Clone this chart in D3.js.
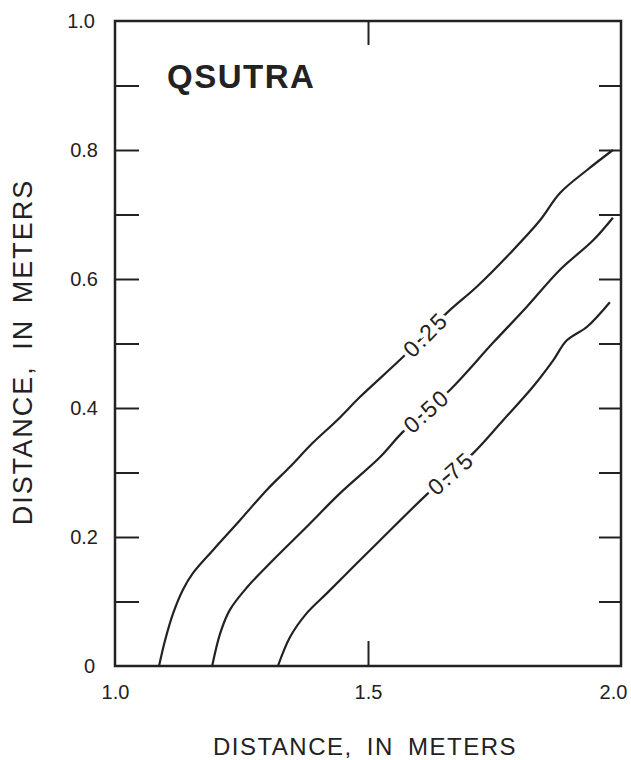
<!DOCTYPE html>
<html>
<head>
  <meta charset="utf-8" />
  <title>QSUTRA contours</title>
  <style>
    body { margin:0; background:#fff; }
    text { font-family:"Liberation Sans", Arial, sans-serif; fill:#222; }
    .contour { fill:none; stroke:#222; stroke-width:2.2px; }
  </style>
</head>
<body>
<div id="container"></div>
<script src="https://d3js.org/d3.v7.min.js"></script>
<script>
// contour levels and their points (x, y in meters)
var levels = ["0.25", "0.50", "0.75"];

var line025 = [[1.087,0],[1.099,0.040],[1.115,0.082],[1.134,0.118],[1.154,0.144],[1.194,0.180],
  [1.247,0.226],[1.300,0.273],[1.346,0.309],[1.391,0.346],[1.439,0.381],[1.484,0.417],
  [1.569,0.479],[1.658,0.549],[1.715,0.588],[1.781,0.640],[1.840,0.691],[1.879,0.733],
  [1.933,0.769],[1.984,0.800]];
var line050 = [[1.192,0],[1.208,0.051],[1.227,0.087],[1.261,0.122],[1.312,0.164],[1.379,0.216],
  [1.445,0.268],[1.524,0.324],[1.569,0.363],[1.662,0.428],[1.747,0.501],[1.814,0.557],
  [1.879,0.614],[1.945,0.660],[1.984,0.695]];
var line075 = [[1.322,0],[1.346,0.045],[1.379,0.082],[1.419,0.113],[1.470,0.153],[1.524,0.195],
  [1.619,0.268],[1.708,0.330],[1.767,0.381],[1.826,0.433],[1.866,0.474],[1.893,0.505],
  [1.933,0.526],[1.978,0.564]];
// index of the segment where each label sits
var labelSeg = [12, 8, 6];

var yTickValues = [0,0.1,0.2,0.3,0.4,0.5,0.6,0.7,0.8,0.9,1.0];
var yTickLabels = ["0","","0.2","","0.4","","0.6","","0.8","","1.0"];
var xLabelValues = [1.0, 1.5, 2.0];
var xLabels = ["1.0", "1.5", "2.0"];
var xTickValues = [1.5];

var lines = [line025, line050, line075];

var W = 631, H = 760;
var pL = 115, pR = 621, pT = 21, pB = 666;

var svg = d3.select("#container").append("svg")
  .attr("width", W).attr("height", H);

var x = d3.scaleLinear().domain([1, 2]).range([pL, pR]);
var y = d3.scaleLinear().domain([0, 1]).range([pB, pT]);

function yLab(d) { return yTickLabels[yTickValues.indexOf(d)]; }

// left axis: ticks inward, labels every 0.2
svg.append("g")
  .attr("transform", "translate(" + pL + ",0)")
  .call(d3.axisLeft(y).tickValues(yTickValues.slice(1, -1)).tickSize(-24).tickPadding(17).tickFormat(yLab))
  .call(function(g) { g.select(".domain").remove(); });
// labels for 0 and 1.0 at the corners
svg.append("g")
  .attr("transform", "translate(" + pL + ",0)")
  .call(d3.axisLeft(y).tickValues([0, 1]).tickSize(0).tickPadding(20).tickFormat(yLab))
  .call(function(g) { g.select(".domain").remove(); g.selectAll("line").remove(); });

// right axis ticks
svg.append("g")
  .attr("transform", "translate(" + pR + ",0)")
  .call(d3.axisRight(y).tickValues(yTickValues.slice(1, -1)).tickSize(-22).tickFormat(""))
  .call(function(g) { g.select(".domain").remove(); });

// bottom axis: labels, and one tick at 1.5
svg.append("g")
  .attr("transform", "translate(0," + pB + ")")
  .call(d3.axisBottom(x).tickValues(xLabelValues).tickSize(0).tickPadding(19)
    .tickFormat(function(d, i) { return xLabels[i]; }))
  .call(function(g) {
    g.select(".domain").remove(); g.selectAll("line").remove();
    g.selectAll(".tick:last-of-type text").attr("dx", -8);
  });
svg.append("g")
  .attr("transform", "translate(0," + pB + ")")
  .call(d3.axisBottom(x).tickValues(xTickValues).tickSize(-25).tickFormat(""))
  .call(function(g) { g.select(".domain").remove(); });
svg.append("g")
  .attr("transform", "translate(0," + pT + ")")
  .call(d3.axisTop(x).tickValues(xTickValues).tickSize(-24).tickFormat(""))
  .call(function(g) { g.select(".domain").remove(); });

svg.selectAll(".tick line").attr("stroke", "#222").attr("stroke-width", 2);
svg.selectAll(".tick text").attr("fill", "#222").style("font-size", "20px")
  .style("font-family", "'Liberation Sans', Arial, sans-serif");

// frame
svg.append("rect")
  .attr("x", pL).attr("y", pT)
  .attr("width", pR - pL).attr("height", pB - pT)
  .attr("fill", "none").attr("stroke", "#222").attr("stroke-width", 2.5);

// contour lines
var lineGen = d3.line()
  .x(function(d) { return x(d[0]); })
  .y(function(d) { return y(d[1]); })
  .curve(d3.curveCatmullRom);

svg.selectAll(".contour")
  .data(lines)
  .enter().append("path")
  .attr("class", "contour")
  .attr("d", lineGen);

// contour labels on the lines
lines.forEach(function(pts, i) {
  var a = pts[labelSeg[i]], b = pts[labelSeg[i] + 1];
  var x0 = x(a[0]), y0 = y(a[1]), x1 = x(b[0]), y1 = y(b[1]);
  var ang = Math.atan2(y1 - y0, x1 - x0) * 180 / Math.PI;
  svg.append("text")
    .attr("transform", "translate(" + ((x0 + x1) / 2) + "," + ((y0 + y1) / 2) + ") rotate(" + ang + ")")
    .attr("text-anchor", "middle")
    .attr("dy", "0.36em")
    .attr("font-size", 23)
    .attr("letter-spacing", 2)
    .attr("stroke", "#fff").attr("stroke-width", 8)
    .attr("paint-order", "stroke")
    .text(levels[i]);
});

// title inside plot
svg.append("text")
  .attr("x", 167).attr("y", 88)
  .attr("font-size", 33).attr("font-weight", "bold")
  .attr("letter-spacing", 1.5)
  .text("QSUTRA");

// axis titles
svg.append("text")
  .attr("x", 365).attr("y", 755)
  .attr("text-anchor", "middle")
  .attr("font-size", 24)
  .attr("letter-spacing", 1.5).attr("word-spacing", 6)
  .text("DISTANCE, IN METERS");

svg.append("text")
  .attr("transform", "translate(32,352) rotate(-90)")
  .attr("text-anchor", "middle")
  .attr("font-size", 27)
  .attr("letter-spacing", 2).attr("word-spacing", 6)
  .text("DISTANCE, IN METERS");
</script>
</body>
</html>
